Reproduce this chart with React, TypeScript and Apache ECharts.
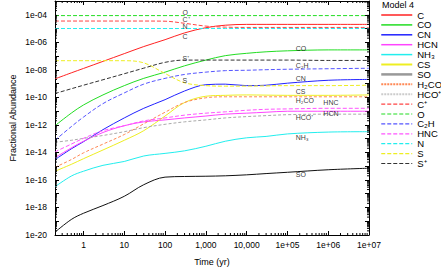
import React, { useEffect, useRef } from "react";
import * as echarts from "echarts";

// Time grid (yr)
const TIME = [0.2, 0.5, 1, 3, 10, 30, 100, 300, 1000, 3000, 1e4, 3e4, 1e5, 1e6, 1e7];

// Fractional abundances at each time of TIME
const C = [2.2e-9, 6.0e-9, 1.26e-8, 4.1e-8, 1.5e-7, 4.9e-7, 1.55e-6, 4.8e-6, 1.15e-5, 1.74e-5, 2.0e-5, 2.0e-5, 2.0e-5, 2.0e-5, 2.0e-5];
const CO = [8.7e-13, 7.1e-12, 2.8e-11, 1.5e-10, 7.1e-10, 2.4e-9, 6.8e-9, 1.95e-8, 5.1e-8, 1.07e-7, 1.58e-7, 2.04e-7, 2.4e-7, 2.8e-7, 2.8e-7];
const CN = [3.0e-15, 1.8e-14, 6.0e-14, 4.5e-13, 3.2e-12, 1.6e-11, 6.8e-11, 2.9e-10, 8.3e-10, 9.1e-10, 7.1e-10, 7.6e-10, 1.07e-9, 1.74e-9, 2.0e-9];
const HCN = [4.2e-15, 2.1e-14, 6.5e-14, 2.8e-13, 8.7e-13, 1.66e-12, 2.3e-12, 3.2e-12, 4.4e-12, 6.0e-12, 7.1e-12, 8.3e-12, 9.8e-12, 9.8e-12, 9.8e-12];
const NH3 = [3.2e-17, 1.9e-16, 4.3e-16, 1.15e-15, 2.2e-15, 5.5e-15, 8.5e-15, 1.3e-14, 2.8e-14, 6.5e-14, 1.15e-13, 1.45e-13, 2.2e-13, 3.0e-13, 3.2e-13];
const CS = [4.3e-16, 1.35e-15, 3.5e-15, 1.5e-14, 7.6e-14, 3.8e-13, 4.4e-12, 4.2e-11, 1.2e-10, 1.4e-10, 1.5e-10, 1.45e-10, 1.4e-10, 1.4e-10, 1.5e-10];
const SO = [1.6e-20, 1.33e-19, 3.8e-19, 1.38e-18, 6.5e-18, 4.5e-17, 1.6e-16, 1.78e-16, 1.86e-16, 2.0e-16, 2.35e-16, 2.9e-16, 3.6e-16, 5.5e-16, 7.1e-16];
const H2CO = [8.3e-16, 3.0e-15, 9.3e-15, 4.0e-14, 2.0e-13, 1.2e-12, 8.3e-12, 4.2e-11, 9.3e-11, 1.1e-10, 1.1e-10, 1.1e-10, 1.1e-10, 1.1e-10, 1.1e-10];
const HCOP = [5.5e-14, 7.6e-14, 1.05e-13, 1.7e-13, 3.2e-13, 6.3e-13, 1.1e-12, 1.66e-12, 2.3e-12, 3.2e-12, 4.0e-12, 4.7e-12, 5.5e-12, 6.0e-12, 6.0e-12];
const CP = [3.5e-5, 3.5e-5, 3.5e-5, 3.5e-5, 3.5e-5, 3.5e-5, 3.4e-5, 2.4e-5, 1.5e-5, 1.26e-5, 1.2e-5, 1.2e-5, 1.2e-5, 1.2e-5, 1.2e-5];
const O = [8.7e-5, 8.7e-5, 8.7e-5, 8.7e-5, 8.7e-5, 8.7e-5, 8.7e-5, 8.7e-5, 8.7e-5, 8.7e-5, 8.7e-5, 8.7e-5, 8.7e-5, 8.7e-5, 8.7e-5];
const C2H = [7.6e-14, 7.4e-13, 3.7e-12, 3.5e-11, 2.1e-10, 9.1e-10, 2.4e-9, 4.6e-9, 6.8e-9, 8.7e-9, 9.3e-9, 1.02e-8, 1.1e-8, 1.2e-8, 1.3e-8];
const HNC = [1.1e-14, 4.0e-14, 1.05e-13, 3.8e-13, 8.7e-13, 1.95e-12, 3.2e-12, 5.1e-12, 7.1e-12, 8.9e-12, 1.15e-11, 1.35e-11, 1.45e-11, 1.6e-11, 1.6e-11];
const N = [1.0e-5, 1.0e-5, 1.0e-5, 1.0e-5, 1.0e-5, 1.0e-5, 1.0e-5, 1.0e-5, 1.0e-5, 1.0e-5, 1.0e-5, 1.0e-5, 1.0e-5, 1.0e-5, 1.0e-5];
const S = [4.6e-8, 4.6e-8, 4.6e-8, 4.6e-8, 4.6e-8, 3.2e-8, 5.4e-9, 1.15e-9, 7.1e-10, 6.5e-10, 6.6e-10, 6.8e-10, 7.1e-10, 7.1e-10, 7.6e-10];
const SP = [1.9e-10, 4.2e-10, 7.6e-10, 1.9e-9, 5.2e-9, 1.32e-8, 3.5e-8, 5.1e-8, 5.1e-8, 5.1e-8, 5.1e-8, 5.1e-8, 5.1e-8, 4.8e-8, 4.8e-8];

const NAMES = ["C", "CO", "CN", "HCN", "NH₃", "CS", "SO", "H₂CO", "HCO⁺", "C⁺", "O", "C₂H", "HNC", "N", "S", "S⁺"];
const VALUES = [C, CO, CN, HCN, NH3, CS, SO, H2CO, HCOP, CP, O, C2H, HNC, N, S, SP];

// In-plot labels
const LABEL_T = [268, 268, 268, 268, 268, 268, 1.6e5, 1.6e5, 1.6e5, 1.6e5, 1.6e5, 1.6e5, 1.6e5, 1.6e5, 7.6e5, 7.6e5];
const LABEL_V = [1.4e-4, 4.6e-5, 1.5e-5, 2.5e-6, 7.1e-8, 1.74e-9, 3.5e-7, 1.95e-8, 2.4e-9, 2.5e-10, 5.8e-11, 3.2e-12, 1.23e-13, 2.6e-16, 4.2e-11, 7.1e-12];
const LABEL_TEXT = ["O", "C⁺", "N", "C", "S⁺", "S", "CO", "C₂H", "CN", "CS", "H₂CO", "HCO⁺", "NH₃", "SO", "HNC", "HCN"];

// Axis ranges and decades (for ticks)
const X_MIN = 0.2;
const X_MAX = 1e7;
const Y_MIN_EXP = -20;
const Y_MAX_EXP = -3;
const X_DECADES = [0.1, 1, 10, 100, 1000, 1e4, 1e5, 1e6];
const Y_DECADES = [1e-20, 1e-19, 1e-18, 1e-17, 1e-16, 1e-15, 1e-14, 1e-13, 1e-12, 1e-11, 1e-10, 1e-9, 1e-8, 1e-7, 1e-6, 1e-5, 1e-4];
const MINOR = [2, 3, 4, 5, 6, 7, 8, 9];

const STYLES: any[] = [
  { color: "#ff2222", type: "solid" },
  { color: "#22dd22", type: "solid" },
  { color: "#2222ff", type: "solid" },
  { color: "#ff44ff", type: "solid" },
  { color: "#22eeee", type: "solid" },
  { color: "#eeee22", type: "solid" },
  { color: "#111111", type: "solid" },
  { color: "#ff8855", type: [3, 2] },
  { color: "#aaaaaa", type: [3, 2] },
  { color: "#ff4444", type: [4, 2] },
  { color: "#22dd22", type: [4, 2] },
  { color: "#5555ff", type: [4, 2] },
  { color: "#ff55ff", type: [4, 2] },
  { color: "#22eeee", type: [4, 2] },
  { color: "#eeee22", type: [4, 2] },
  { color: "#333333", type: [4, 2] },
];
const LEGEND_STYLES: any[] = [
  { width: 1.5 }, { width: 1.5 }, { width: 1.5 }, { width: 1.5 }, { width: 1.5 }, { width: 2 },
  { width: 2.5, color: "#999999" }, { width: 2, type: [2, 1] }, { width: 2, type: [2, 1], color: "#cccccc" },
  { width: 1.2 }, { width: 1.2 }, { width: 1.2 }, { width: 1.2 }, { width: 1.2 }, { width: 1.2 }, { width: 1.2 },
];

const FONT = "Liberation Sans";

function fmtX(v: number) {
  const l = Math.log10(v);
  const e = Math.round(l);
  if (Math.abs(l - e) > 1e-6) return "";
  if (e < 0) return "";
  if (e <= 4) return Math.round(Math.pow(10, e)).toLocaleString("en-US");
  return "1e+" + String(e).padStart(2, "0");
}
function fmtYExp(e: number) {
  const r = Math.round(e);
  if ((r - Y_MIN_EXP) % 2 !== 0) return "";
  return "1e" + (r < 0 ? "-" : "+") + String(Math.abs(r)).padStart(2, "0");
}

export default function App() {
  const ref = useRef<HTMLDivElement>(null);
  useEffect(() => {
    const chart = echarts.init(ref.current!, null, { renderer: "svg" });
    const line = { show: true, lineStyle: { color: "#000", width: 1 } };
    const xBase: any = {
      type: "log",
      logBase: 10,
      min: X_MIN,
      max: X_MAX,
      splitNumber: 8,
      axisLine: line,
      axisTick: { show: true, inside: true, length: 4, lineStyle: { color: "#000" } },
      minorTick: { show: false },
      splitLine: { show: false },
    };
    const yLog: any = {
      type: "log",
      logBase: 10,
      min: Math.pow(10, Y_MIN_EXP),
      max: Math.pow(10, Y_MAX_EXP),
      axisLine: line,
      axisTick: { show: false },
      axisLabel: { show: false },
      splitLine: { show: false },
    };
    const yVal: any = {
      type: "value",
      min: Y_MIN_EXP,
      max: Y_MAX_EXP,
      interval: 1,
      axisLine: { show: false },
      axisTick: { show: true, inside: true, length: 4, lineStyle: { color: "#000" } },
      splitLine: { show: false },
    };
    const series: any[] = NAMES.map((name, i) => ({
      type: "line",
      name,
      data: TIME.map((t, j) => [t, VALUES[i][j]]),
      symbol: "none",
      showSymbol: false,
      smooth: 0.35,
      silent: true,
      itemStyle: { color: STYLES[i].color },
      lineStyle: { color: STYLES[i].color, type: STYLES[i].type, width: 1 },
      z: 2,
    }));
    series.push({
      type: "scatter",
      name: "labels",
      silent: true,
      symbolSize: 0,
      data: LABEL_T.map((t, i) => ({
        value: [t, LABEL_V[i]],
        label: { formatter: LABEL_TEXT[i] },
      })),
      label: {
        show: true,
        position: "right",
        distance: 0,
        fontFamily: FONT,
        fontSize: 7,
        lineHeight: 7,
        color: "#000",
      },
      z: 5,
    });
    const tickStyle = { stroke: "#000", lineWidth: 1 };
    series.push({
      type: "custom",
      name: "yminor",
      silent: true,
      clip: false,
      data: Y_DECADES.map((d) => [X_MIN, d]),
      renderItem: (params: any, api: any) => {
        const base = api.value(1);
        const children: any[] = [];
        MINOR.forEach((k) => {
          const v = k * base;
          if (v >= Math.pow(10, Y_MAX_EXP)) return;
          const p = api.coord([X_MIN, v]);
          const q = api.coord([X_MAX, v]);
          children.push({ type: "line", shape: { x1: p[0], y1: p[1], x2: p[0] + 2, y2: p[1] }, style: tickStyle });
          children.push({ type: "line", shape: { x1: q[0], y1: q[1], x2: q[0] - 2, y2: q[1] }, style: tickStyle });
        });
        return { type: "group", children };
      },
      z: 6,
    });
    series.push({
      type: "custom",
      name: "xminor",
      silent: true,
      clip: false,
      data: X_DECADES.map((d) => [d, 1e-10]),
      renderItem: (params: any, api: any) => {
        const base = api.value(0);
        const children: any[] = [];
        MINOR.forEach((k) => {
          const v = k * base;
          if (v <= X_MIN || v >= X_MAX) return;
          const p = api.coord([v, Math.pow(10, Y_MIN_EXP)]);
          const q = api.coord([v, Math.pow(10, Y_MAX_EXP)]);
          children.push({ type: "line", shape: { x1: p[0], y1: p[1], x2: p[0], y2: p[1] - 2 }, style: tickStyle });
          children.push({ type: "line", shape: { x1: q[0], y1: q[1], x2: q[0], y2: q[1] + 2 }, style: tickStyle });
        });
        return { type: "group", children };
      },
      z: 6,
    });
    chart.setOption({
      animation: false,
      textStyle: { fontFamily: FONT },
      title: {
        text: "Model 4",
        left: 382,
        top: 0,
        textStyle: { fontFamily: FONT, fontSize: 9, fontWeight: "normal", color: "#000" },
        padding: 0,
      },
      legend: {
        orient: "vertical",
        left: 380,
        top: 10,
        padding: 0,
        itemWidth: 31,
        itemHeight: 9,
        itemGap: -0.1,
        itemStyle: { opacity: 0 },
        textStyle: { fontFamily: FONT, fontSize: 9.5, color: "#000", lineHeight: 9 },
        data: NAMES.map((name, i) => ({ name, lineStyle: LEGEND_STYLES[i], itemStyle: { opacity: 0 } })),
        selectedMode: false,
      },
      grid: { left: 45, right: 72, top: 1, bottom: 28, containLabel: false },
      xAxis: [
        {
          ...xBase,
          position: "bottom",
          name: "Time (yr)",
          nameLocation: "middle",
          nameGap: 22,
          nameTextStyle: { fontFamily: FONT, fontSize: 9, color: "#000" },
          axisLabel: { formatter: fmtX, fontFamily: FONT, fontSize: 8.5, color: "#000", margin: 5, showMinLabel: false },
        },
        { ...xBase, position: "top", axisLabel: { show: false } },
      ],
      yAxis: [
        {
          ...yLog,
          position: "left",
          name: "Fractional Abundance",
          nameLocation: "middle",
          nameGap: 38,
          nameTextStyle: { fontFamily: FONT, fontSize: 9, color: "#000" },
        },
        { ...yLog, position: "right" },
        {
          ...yVal,
          position: "left",
          axisLabel: { formatter: fmtYExp, fontFamily: FONT, fontSize: 8.5, color: "#000", margin: 8 },
        },
        { ...yVal, position: "right", axisLabel: { show: false } },
      ],
      series,
    });
    return () => chart.dispose();
  }, []);
  return <div ref={ref} style={{ position: "absolute", left: 0, top: 0, width: 441, height: 271 }} />;
}
